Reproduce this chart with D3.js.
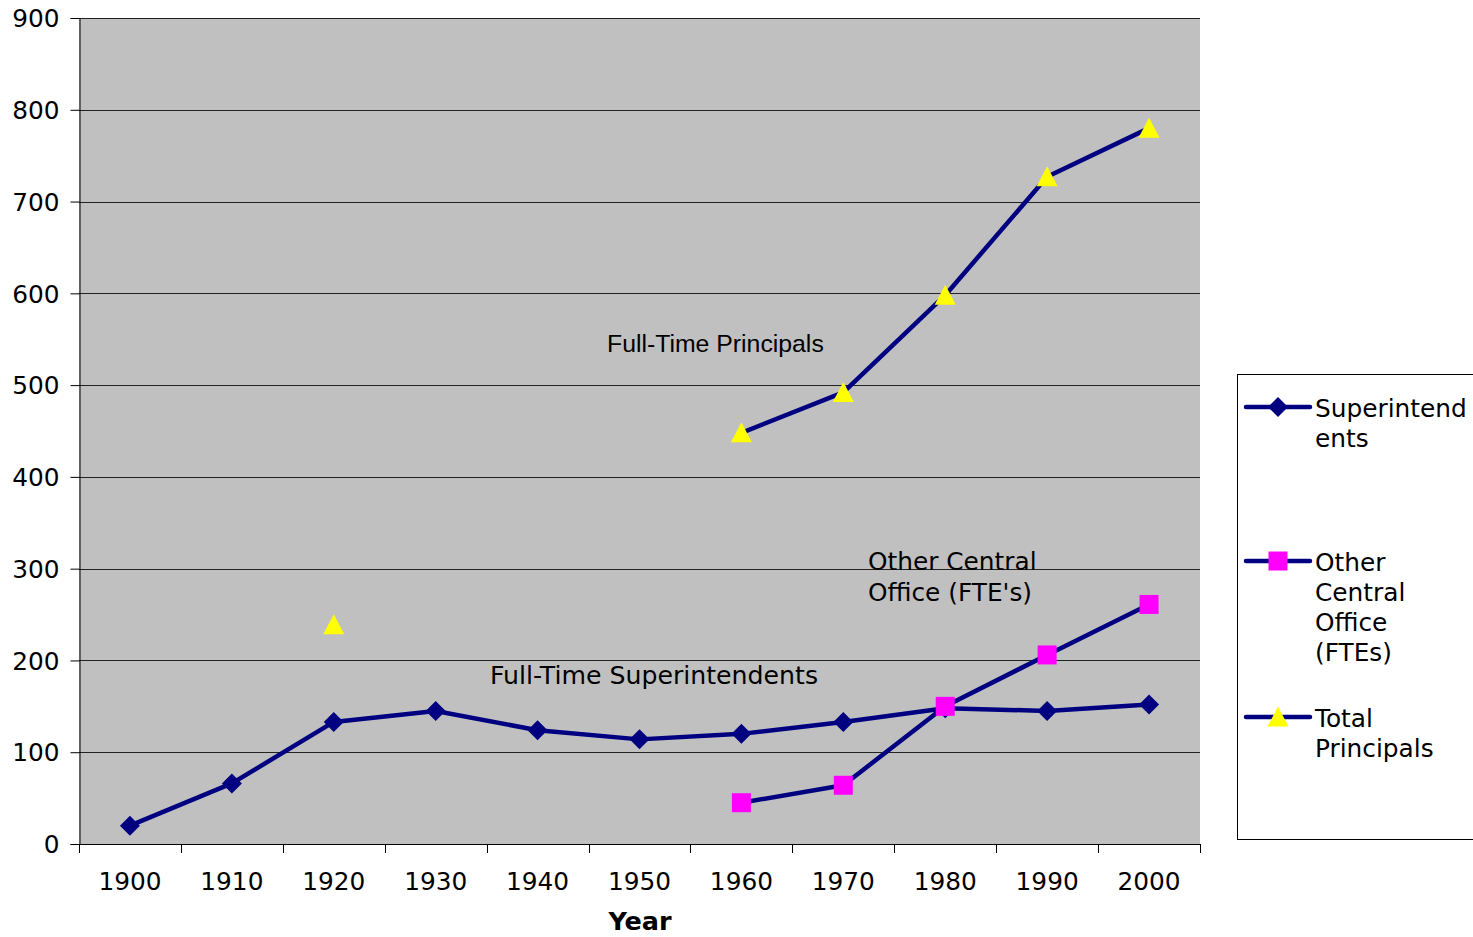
<!DOCTYPE html>
<html>
<head>
<meta charset="utf-8">
<script src="https://cdn.jsdelivr.net/npm/d3@7"></script>
<style>
  body { margin: 0; background: #fff; }
  svg { display: block; }
</style>
</head>
<body>
<script>
var years = ["1900", "1910", "1920", "1930", "1940", "1950", "1960", "1970", "1980", "1990", "2000"];
var superintendents = [20, 66, 133, 145, 124, 114, 120, 133, 148, 145, 152];
var otherCentral = [null, null, null, null, null, null, 45, 64, 150, 206, 261];
var totalPrincipals = [null, null, 239, null, null, null, 448, 492, 598, 727, 780];
var yTicks = [0, 100, 200, 300, 400, 500, 600, 700, 800, 900];

var W = 1473, H = 937;
var plotLeft = 79, plotRight = 1200, plotTop = 18, plotBottom = 844;
var verdana = "'DejaVu Sans', Verdana, sans-serif";
var arial = "'Liberation Sans', Arial, sans-serif";
var fs = "24.8px";

var svg = d3.select("body").append("svg")
  .attr("width", W)
  .attr("height", H);

var x = d3.scaleBand().domain(years).range([plotLeft, plotRight]);
var y = d3.scaleLinear().domain([0, 900]).range([plotBottom, plotTop]);

// plot background
svg.append("rect")
  .attr("x", plotLeft).attr("y", plotTop)
  .attr("width", plotRight - plotLeft).attr("height", plotBottom - plotTop)
  .attr("fill", "#c0c0c0");

// gridlines
svg.append("g")
  .selectAll("line")
  .data(yTicks.slice(1))
  .enter().append("line")
    .attr("x1", plotLeft).attr("x2", plotRight)
    .attr("y1", function(d) { return Math.round(y(d)) + 0.5; })
    .attr("y2", function(d) { return Math.round(y(d)) + 0.5; })
    .attr("stroke", "#222")
    .attr("stroke-width", 1);

// axes
var yAxis = svg.append("g")
  .attr("transform", "translate(" + (plotLeft + 0.5) + ",0)")
  .call(d3.axisLeft(y).tickValues(yTicks).tickSize(9).tickPadding(11));
var xAxis = svg.append("g")
  .attr("transform", "translate(0," + (plotBottom + 0.5) + ")")
  .call(d3.axisBottom(x).tickSize(0).tickPadding(28));

// x ticks between categories
var bounds = years.map(function(d) { return x(d); }).concat([plotRight]);
svg.append("g")
  .selectAll("line")
  .data(bounds)
  .enter().append("line")
    .attr("x1", function(d) { return Math.round(d) + 0.5; })
    .attr("x2", function(d) { return Math.round(d) + 0.5; })
    .attr("y1", plotBottom).attr("y2", plotBottom + 9)
    .attr("stroke", "#000");

[yAxis, xAxis].forEach(function(g) {
  g.select(".domain").attr("stroke", "#000");
  g.selectAll(".tick line").attr("stroke", "#000");
  g.selectAll("text")
    .attr("fill", "#000")
    .style("font-family", verdana)
    .style("font-size", fs);
});
yAxis.selectAll("text").attr("dy", "0.35em");
xAxis.select(".domain").remove();
svg.append("line")
  .attr("x1", plotLeft).attr("x2", plotRight)
  .attr("y1", plotBottom + 0.5).attr("y2", plotBottom + 0.5)
  .attr("stroke", "#000");

svg.append("text")
  .attr("x", 640).attr("y", 930)
  .attr("text-anchor", "middle")
  .style("font-family", verdana)
  .style("font-size", "25.5px")
  .style("font-weight", "bold")
  .text("Year");

function cx(i) { return x(years[i]) + x.bandwidth() / 2; }

var line = d3.line()
  .defined(function(d) { return d != null; })
  .x(function(d, i) { return cx(i); })
  .y(function(d) { return y(d); });

var series = [
  { name: "Superintendents", values: superintendents, shape: "diamond", color: "#000080" },
  { name: "Other Central Office (FTEs)", values: otherCentral, shape: "square", color: "#ff00ff" },
  { name: "Total Principals", values: totalPrincipals, shape: "triangle", color: "#ffff00" }
];

function markerPath(shape) {
  if (shape == "diamond") return "M0,-10L10,0L0,10L-10,0Z";
  if (shape == "square") return "M-9.5,-9.5H9.5V9.5H-9.5Z";
  return "M0,-10.5L10.5,9.5L-10.5,9.5Z";
}

series.forEach(function(s) {
  svg.append("path")
    .datum(s.values)
    .attr("d", line)
    .attr("fill", "none")
    .attr("stroke", "#000080")
    .attr("stroke-width", 4.5)
    .attr("stroke-linejoin", "round");

  svg.append("g")
    .selectAll("path")
    .data(s.values.map(function(v, i) { return { v: v, i: i }; }).filter(function(d) { return d.v != null; }))
    .enter().append("path")
      .attr("d", markerPath(s.shape))
      .attr("transform", function(d) { return "translate(" + cx(d.i) + "," + y(d.v) + ")"; })
      .attr("fill", s.color);
});

// annotations
svg.append("text")
  .attr("x", 607).attr("y", 352)
  .style("font-family", arial)
  .style("font-size", "24.8px")
  .text("Full-Time Principals");
svg.append("text")
  .attr("x", 490).attr("y", 684)
  .style("font-family", verdana)
  .style("font-size", "25.2px")
  .text("Full-Time Superintendents");
var oc = svg.append("text")
  .style("font-family", verdana)
  .style("font-size", fs);
oc.append("tspan").attr("x", 868).attr("y", 570).text("Other Central");
oc.append("tspan").attr("x", 868).attr("y", 601).text("Office (FTE's)");

// legend
svg.append("rect")
  .attr("x", 1237.5).attr("y", 374.5)
  .attr("width", 260).attr("height", 465)
  .attr("fill", "#fff")
  .attr("stroke", "#000");

var legendLabels = [["Superintend", "ents"], ["Other", "Central", "Office", "(FTEs)"], ["Total", "Principals"]];
var legendY = [407, 561, 717];

series.forEach(function(s, k) {
  var ly = legendY[k];
  svg.append("line")
    .attr("x1", 1246).attr("x2", 1310)
    .attr("y1", ly).attr("y2", ly)
    .attr("stroke", "#000080")
    .attr("stroke-width", 4.5)
    .attr("stroke-linecap", "round");
  svg.append("path")
    .attr("d", markerPath(s.shape))
    .attr("transform", "translate(1278," + ly + ")")
    .attr("fill", s.color);
  var t = svg.append("text")
    .style("font-family", verdana)
    .style("font-size", fs);
  legendLabels[k].forEach(function(l, j) {
    t.append("tspan").attr("x", 1315).attr("y", ly + 10 + j * 30).text(l);
  });
});
</script>
</body>
</html>
